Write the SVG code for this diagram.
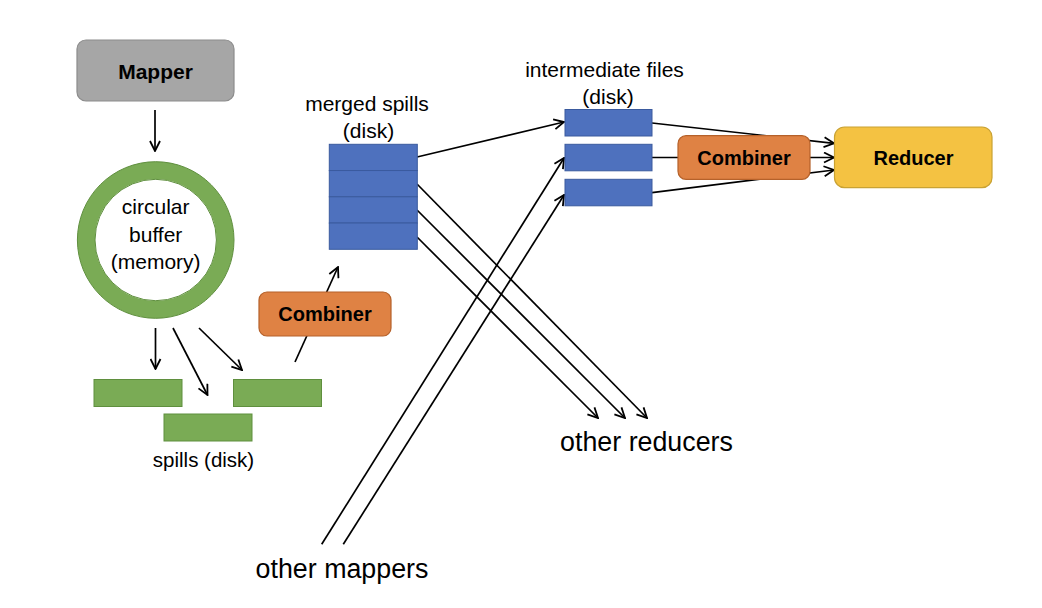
<svg xmlns="http://www.w3.org/2000/svg" width="1042" height="608" viewBox="0 0 1042 608">
<defs>
<marker id="ah" viewBox="0 0 12 12" refX="11" refY="6" markerWidth="12" markerHeight="12" markerUnits="userSpaceOnUse" orient="auto">
<polyline points="1,1 11,6 1,11" fill="none" stroke="#000" stroke-width="1.8"/>
</marker>
<style>
.t{font-family:"Liberation Sans",Arial,sans-serif;fill:#000;text-anchor:middle}
.b{font-weight:bold;font-size:20px}
.m{font-size:21px}
.l{font-size:26.8px}
.c{fill:none;stroke:#000;stroke-width:1.7}
.a{marker-end:url(#ah)}
.blue{fill:#4e71be;stroke:#3a5a9e;stroke-width:1}
.grn{fill:#7aab55;stroke:#5f8f3e;stroke-width:1}
.org{fill:#df8244;stroke:#b5612a;stroke-width:1.2}
</style>
</defs>
<rect width="1042" height="608" fill="#fff"/>

<g id="connectors">
<line class="c a" x1="155" y1="110" x2="155" y2="151"/>
<line class="c a" x1="155.5" y1="328" x2="155.5" y2="369"/>
<line class="c a" x1="173" y1="328" x2="207.5" y2="395"/>
<line class="c a" x1="199" y1="328" x2="242" y2="370"/>
<line class="c a" x1="295" y1="362" x2="338" y2="267"/>
<line class="c a" x1="417" y1="157" x2="564" y2="122"/>
<line class="c a" x1="417" y1="184" x2="647" y2="418"/>
<line class="c a" x1="417" y1="210" x2="625" y2="418"/>
<line class="c a" x1="417" y1="237" x2="598" y2="418"/>
<line class="c a" x1="321.7" y1="544.3" x2="564" y2="158"/>
<line class="c a" x1="343.3" y1="544.3" x2="564" y2="195"/>
<line class="c a" x1="652" y1="123" x2="834" y2="143.3"/>
<line class="c a" x1="652" y1="157.5" x2="834" y2="157.5"/>
<line class="c a" x1="652" y1="192.7" x2="834" y2="170"/>
</g>

<g id="mapper">
<rect x="77" y="40" width="157" height="61" rx="9" fill="#a6a6a6" stroke="#8c8c8c" stroke-width="1.2"/>
<text class="t b" x="155.5" y="78.5" style="font-size:21px">Mapper</text>
</g>

<g id="circular-buffer">
<circle cx="155.7" cy="240" r="69.5" fill="#fff" stroke="#7aab55" stroke-width="17.5"/>
<circle cx="155.7" cy="240" r="78.3" fill="none" stroke="#5f8f3e" stroke-width="1"/>
<circle cx="155.7" cy="240" r="60.7" fill="none" stroke="#5f8f3e" stroke-width="1"/>
<text class="t m" x="155.7" y="214">circular</text>
<text class="t m" x="155.7" y="241.5">buffer</text>
<text class="t m" x="155.7" y="269">(memory)</text>
</g>

<g id="spills">
<rect class="grn" x="94" y="379.5" width="88" height="27"/>
<rect class="grn" x="164" y="414" width="88" height="27"/>
<rect class="grn" x="233.5" y="379.5" width="88" height="27"/>
<text class="t" x="203.5" y="467" style="font-size:20.5px">spills (disk)</text>
</g>

<g id="combiner-map">
<rect class="org" x="259" y="292" width="132" height="44" rx="8"/>
<text class="t b" x="325" y="321">Combiner</text>
</g>

<g id="merged-spills">
<rect class="blue" x="329.3" y="144.3" width="88" height="26.25"/>
<rect class="blue" x="329.3" y="170.55" width="88" height="26.25"/>
<rect class="blue" x="329.3" y="196.8" width="88" height="26.25"/>
<rect class="blue" x="329.3" y="223.05" width="88" height="26.25"/>
<text class="t m" x="367" y="111">merged spills</text>
<text class="t m" x="368.5" y="138">(disk)</text>
</g>

<g id="intermediate-files">
<rect class="blue" x="565" y="109.5" width="87" height="26.5"/>
<rect class="blue" x="565" y="144.3" width="87" height="26.5"/>
<rect class="blue" x="565" y="179.3" width="87" height="26.5"/>
<text class="t m" x="604.5" y="76.5">intermediate files</text>
<text class="t m" x="608" y="103.5">(disk)</text>
</g>

<g id="combiner-reduce">
<rect class="org" x="678" y="135.7" width="132" height="43.6" rx="8"/>
<text class="t b" x="744" y="164.5">Combiner</text>
</g>

<g id="reducer">
<rect x="834.5" y="127" width="157.5" height="60.7" rx="10" fill="#f4c242" stroke="#c9a233" stroke-width="1.2"/>
<text class="t b" x="913.5" y="164.5">Reducer</text>
</g>

<g id="labels">
<text class="t l" x="646.5" y="450.5">other reducers</text>
<text class="t l" x="342" y="578">other mappers</text>
</g>
</svg>
